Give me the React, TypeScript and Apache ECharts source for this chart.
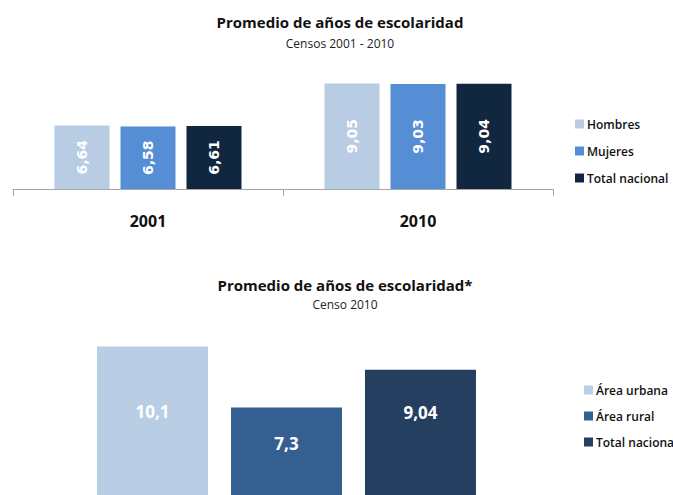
import React, { useEffect, useRef } from "react";
import * as echarts from "echarts";

// Chart 1: Censos 2001 - 2010
const years = ["2001", "2010"];
const hombres = [6.64, 9.05];
const mujeres = [6.58, 9.03];
const totalNacional = [6.61, 9.04];

// Chart 2: Censo 2010
const censo2010Cat = ["Censo 2010"];
const areaUrbana = [10.1];
const areaRural = [7.3];
const totalNacional2010 = [9.04];

const fmt = (p: any) => String(p.value).replace(".", ",");

export default function App() {
  const ref = useRef<HTMLDivElement>(null);
  useEffect(() => {
    if (!ref.current) return;
    const chart = echarts.init(ref.current, null, { renderer: "svg" });
    const font = "'Open Sans', Lato, sans-serif";
    const topLabel = {
      show: true,
      position: "inside",
      rotate: 90,
      color: "#ffffff",
      fontWeight: "bold",
      fontSize: 14,
      fontFamily: "'DejaVu Sans', sans-serif",
      formatter: fmt,
    };
    const botLabel = (y: number) => ({
      show: true,
      position: ["50%", y],
      align: "center",
      verticalAlign: "middle",
      color: "#ffffff",
      fontWeight: "bold",
      fontSize: 17,
      fontFamily: font,
      formatter: fmt,
    });
    chart.setOption({
      animation: false,
      textStyle: { fontFamily: font },
      graphic: [
        { type: "text", x: 340, y: 22, style: { text: "Promedio de años de escolaridad", font: `bold 15px ${font}`, fill: "#111", textAlign: "center", textVerticalAlign: "middle" } },
        { type: "text", x: 340, y: 43, style: { text: "Censos 2001 - 2010", font: `12px ${font}`, fill: "#222", textAlign: "center", textVerticalAlign: "middle" } },
        { type: "text", x: 345, y: 285, style: { text: "Promedio de años de escolaridad*", font: `bold 15px ${font}`, fill: "#111", textAlign: "center", textVerticalAlign: "middle" } },
        { type: "text", x: 345, y: 304, style: { text: "Censo 2010", font: `12px ${font}`, fill: "#222", textAlign: "center", textVerticalAlign: "middle" } },
      ],
      legend: [
        {
          orient: "vertical",
          left: 570,
          top: 113,
          itemWidth: 9,
          itemHeight: 9,
          itemGap: 15,
          icon: "rect",
          textStyle: { fontSize: 12, fontWeight: 600, color: "#111", fontFamily: font, padding: [0, 0, 0, -2] },
          data: ["Hombres", "Mujeres", "Total nacional"],
        },
        {
          orient: "vertical",
          left: 579,
          top: 379,
          itemWidth: 9,
          itemHeight: 9,
          itemGap: 14,
          icon: "rect",
          textStyle: { fontSize: 12, fontWeight: 600, color: "#111", fontFamily: font, padding: [0, 0, 0, -2] },
          data: ["Área urbana", "Área rural", "Total nacional "],
        },
      ],
      grid: [
        { left: 13, width: 540, top: 67, height: 122 },
        { left: 60, width: 453, top: 305, height: 262 },
      ],
      xAxis: [
        {
          type: "category",
          gridIndex: 0,
          data: years,
          axisLine: { lineStyle: { color: "#a6a6a6", width: 1 } },
          axisTick: { show: true, length: 7, lineStyle: { color: "#a6a6a6" } },
          axisLabel: { fontSize: 16, fontWeight: "bold", color: "#111", margin: 24, fontFamily: font },
        },
        {
          type: "category",
          gridIndex: 1,
          data: censo2010Cat,
          show: false,
        },
      ],
      yAxis: [
        { type: "value", gridIndex: 0, min: 3, max: 10, show: false, splitLine: { show: false } },
        { type: "value", gridIndex: 1, min: 0, max: 12, show: false, splitLine: { show: false } },
      ],
      series: [
        { name: "Hombres", type: "bar", xAxisIndex: 0, yAxisIndex: 0, data: hombres, barWidth: 55, barGap: "20%", itemStyle: { color: "#b8cce4" }, label: topLabel },
        { name: "Mujeres", type: "bar", xAxisIndex: 0, yAxisIndex: 0, data: mujeres, barWidth: 55, barGap: "20%", itemStyle: { color: "#558ed5" }, label: topLabel },
        { name: "Total nacional", type: "bar", xAxisIndex: 0, yAxisIndex: 0, data: totalNacional, barWidth: 55, barGap: "20%", itemStyle: { color: "#11263f" }, label: topLabel },
        { name: "Área urbana", type: "bar", xAxisIndex: 1, yAxisIndex: 1, data: areaUrbana, barWidth: 111, barGap: "20.7%", itemStyle: { color: "#b9cde4" }, label: botLabel(65) },
        { name: "Área rural", type: "bar", xAxisIndex: 1, yAxisIndex: 1, data: areaRural, barWidth: 111, barGap: "20.7%", itemStyle: { color: "#355f91" }, label: botLabel(36) },
        { name: "Total nacional ", type: "bar", xAxisIndex: 1, yAxisIndex: 1, data: totalNacional2010, barWidth: 111, barGap: "20.7%", itemStyle: { color: "#253f60" }, label: botLabel(43) },
      ],
    });
    return () => chart.dispose();
  }, []);
  return (
    <div style={{ position: "absolute", left: 0, top: 0, width: 673, height: 495, overflow: "hidden" }}>
      <div ref={ref} style={{ width: 673, height: 575 }} />
    </div>
  );
}
